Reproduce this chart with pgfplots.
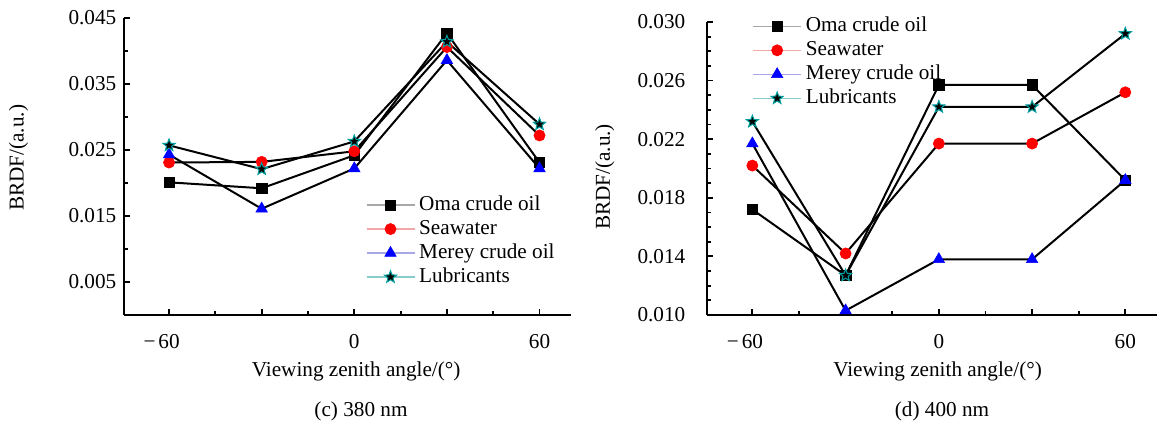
\documentclass[border=0pt]{standalone}
\usepackage{pgfplots}
\pgfplotsset{compat=1.18}
\usepackage{fontspec}
\setmainfont{Liberation Serif}

\definecolor{lgray}{HTML}{A8A8A8}
\definecolor{lpink}{HTML}{F2A8A8}
\definecolor{lblue}{HTML}{A8A8E8}
\definecolor{lteal}{HTML}{88CCCC}
\definecolor{mred}{HTML}{FF0000}
\definecolor{mblue}{HTML}{0000FF}
\definecolor{mteal}{HTML}{00A0A0}

\pgfdeclareplotmark{fstar}{%
  \pgfpathmoveto{\pgfpointpolar{90}{\pgfplotmarksize}}%
  \pgfpathlineto{\pgfpointpolar{126}{0.42\pgfplotmarksize}}%
  \pgfpathlineto{\pgfpointpolar{162}{\pgfplotmarksize}}%
  \pgfpathlineto{\pgfpointpolar{198}{0.42\pgfplotmarksize}}%
  \pgfpathlineto{\pgfpointpolar{234}{\pgfplotmarksize}}%
  \pgfpathlineto{\pgfpointpolar{270}{0.42\pgfplotmarksize}}%
  \pgfpathlineto{\pgfpointpolar{306}{\pgfplotmarksize}}%
  \pgfpathlineto{\pgfpointpolar{342}{0.42\pgfplotmarksize}}%
  \pgfpathlineto{\pgfpointpolar{18}{\pgfplotmarksize}}%
  \pgfpathlineto{\pgfpointpolar{54}{0.42\pgfplotmarksize}}%
  \pgfpathclose
  \pgfusepathqfillstroke}

\newcommand{\fs}{\fontsize{10.6}{12.7}\selectfont}

\pgfplotsset{
  legimg/.style={legend image code/.code={%
    \draw[mark repeat=2,mark phase=2,##1,draw=#1,line width=0.7pt]
      plot coordinates {(0pt,0pt)(12pt,0pt)(24pt,0pt)};}},
  sOma/.style={black, line width=1pt, mark=square*, mark size=2.6pt,
    mark options={fill=black, draw=black, line width=0.3pt}, legimg=lgray},
  sSea/.style={black, line width=1pt, mark=*, mark size=2.8pt,
    mark options={fill=mred, draw=mred, line width=0.3pt}, legimg=lpink},
  sMer/.style={black, line width=1pt, mark=triangle*, mark size=3.3pt,
    mark options={fill=mblue, draw=mblue, line width=0.3pt}, legimg=lblue},
  sLub/.style={black, line width=1pt, mark=fstar, mark size=3.2pt,
    mark options={fill=black, draw=mteal, line width=0.5pt}, legimg=lteal},
  base/.style={
    scale only axis,
    axis x line=bottom, axis y line=left,
    axis line style={-, line width=1.1pt},
    tick align=inside,
    major tick length=3pt, minor tick length=1.8pt,
    every tick/.style={black, line width=0.9pt},
    scaled y ticks=false, scaled x ticks=false,
    xmin=-74.5, xmax=70.2,
    xtick={-60,-30,0,30,60},
    xticklabels={\llap{−\kern1.5pt}60,,0,,60},
    minor x tick num=1,
    tick label style={font=\fs},
    xticklabel style={yshift=-6pt},
    /pgf/number format/assume math mode=true,
    label style={font=\fs},
    xlabel={Viewing zenith angle/(°)},
    ylabel={BRDF/(a.u.)},
    clip=false,
    legend cell align=left,
    legend style={draw=none, fill=none, font=\fs, inner sep=0pt,
      row sep=2.2pt, column sep=2pt,
      nodes={inner sep=0pt, text height=7.4pt, text depth=2.4pt}},
  },
}

\begin{document}
\begin{tikzpicture}
\path[use as bounding box] (0pt,0pt) rectangle (578.5pt,213pt);

\begin{axis}[base,
  at={(62.15pt,55.5pt)}, anchor=south west,
  width=223.35pt, height=148.5pt,
  ymin=0, ymax=0.045,
  ytick={0.005,0.015,0.025,0.035,0.045},
  yticklabels={0.005,0.015,0.025,0.035,0.045},
  minor y tick num=1,
  yticklabel style={xshift=-0.5pt},
  xlabel style={at={(axis description cs:0.519,0)}, anchor=center, yshift=-28.4pt},
  ylabel style={at={(axis description cs:-0.237,0.529)}, anchor=center},
  legend style={at={(axis cs:3.6,0.0182)}, anchor=north west},
]
\addplot[sOma] coordinates {(-60,0.0201) (-30,0.0192) (0,0.0242) (30,0.0427) (60,0.0231)};
\addlegendentry{Oma crude oil}
\addplot[sSea] coordinates {(-60,0.0231) (-30,0.0232) (0,0.0248) (30,0.0406) (60,0.0272)};
\addlegendentry{Seawater}
\addplot[sMer] coordinates {(-60,0.0243) (-30,0.0161) (0,0.0222) (30,0.0386) (60,0.0222)};
\addlegendentry{Merey crude oil}
\addplot[sLub] coordinates {(-60,0.0257) (-30,0.0221) (0,0.0263) (30,0.0414) (60,0.0289)};
\addlegendentry{Lubricants}
\end{axis}

\begin{axis}[base,
  at={(353.65pt,55.5pt)}, anchor=south west,
  width=224.85pt, height=146.5pt,
  ymin=0.010, ymax=0.030,
  ytick={0.010,0.014,0.018,0.022,0.026,0.030},
  yticklabels={0.010,0.014,0.018,0.022,0.026,0.030},
  minor y tick num=3,
  yticklabel style={xshift=-7.5pt},
  xlabel style={at={(axis description cs:0.512,0)}, anchor=center, yshift=-28.4pt},
  ylabel style={at={(axis description cs:-0.228,0.471)}, anchor=center},
  legend style={at={(axis cs:-60.1,0.0304)}, anchor=north west},
]
\addplot[sOma] coordinates {(-60,0.0172) (-30,0.0127) (0,0.0257) (30,0.0257) (60,0.0192)};
\addlegendentry{Oma crude oil}
\addplot[sSea] coordinates {(-60,0.0202) (-30,0.0142) (0,0.0217) (30,0.0217) (60,0.0252)};
\addlegendentry{Seawater}
\addplot[sMer] coordinates {(-60,0.0217) (-30,0.0103) (0,0.0138) (30,0.0138) (60,0.0192)};
\addlegendentry{Merey crude oil}
\addplot[sLub] coordinates {(-60,0.0232) (-30,0.0127) (0,0.0242) (30,0.0242) (60,0.0292)};
\addlegendentry{Lubricants}
\end{axis}

\node[font=\fs] at (180.5pt,7.15pt) {(c) 380 nm};
\node[font=\fs] at (471pt,7.15pt) {(d) 400 nm};
\end{tikzpicture}
\end{document}
